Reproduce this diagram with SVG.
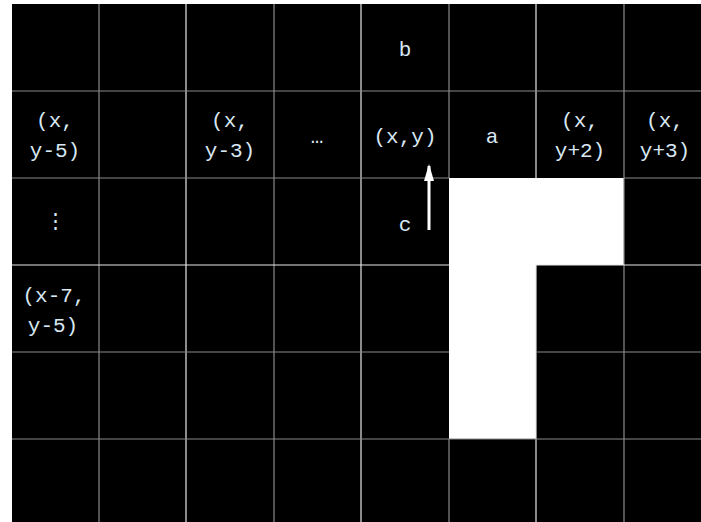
<svg xmlns="http://www.w3.org/2000/svg" width="701" height="522" viewBox="0 0 701 522">
<defs>
<style>
.t{font-family:"Liberation Mono","Courier New",monospace;font-size:21px;fill:#d8e8f4;text-anchor:middle}
.g{stroke:#8a8a8a;stroke-width:1.2}
.w{stroke:#e8e8e8;stroke-width:1.2}
</style>
<marker id="ah" markerWidth="17" markerHeight="10" refX="15" refY="5" orient="auto" markerUnits="userSpaceOnUse" viewBox="0 0 17 10">
<path d="M0,0 L17,5 L0,10 Z" fill="#fff"/>
</marker>
</defs>
<rect x="0" y="0" width="701" height="522" fill="#fff"/>
<rect x="12" y="4" width="689" height="518" fill="#000"/>
<rect id="white1" x="449" y="178" width="87" height="261" fill="#fff"/>
<rect id="white2" x="536" y="178" width="88" height="87" fill="#fff"/>
<g id="grid">
<line class="g" x1="99" y1="4" x2="99" y2="522"/>
<line class="w" x1="186" y1="4" x2="186" y2="522"/>
<line class="g" x1="274" y1="4" x2="274" y2="522"/>
<line class="w" x1="361" y1="4" x2="361" y2="522"/>
<line class="g" x1="449" y1="4" x2="449" y2="178"/>
<line class="g" x1="449" y1="439" x2="449" y2="522"/>
<line class="w" x1="536" y1="4" x2="536" y2="178"/>
<line class="w" x1="536" y1="265" x2="536" y2="522"/>
<line class="g" x1="624" y1="4" x2="624" y2="522"/>
<line class="g" x1="12" y1="91" x2="701" y2="91"/>
<line class="g" x1="12" y1="178" x2="449" y2="178"/>
<line class="g" x1="624" y1="178" x2="701" y2="178"/>
<line class="w" x1="12" y1="265" x2="449" y2="265"/>
<line class="w" x1="536" y1="265" x2="701" y2="265"/>
<line class="g" x1="12" y1="352" x2="449" y2="352"/>
<line class="g" x1="536" y1="352" x2="701" y2="352"/>
<line class="g" x1="12" y1="439" x2="701" y2="439"/>
</g>
<g id="labels">
<text class="t" x="405" y="56">b</text>
<text class="t" x="55" y="127">(x,</text>
<text class="t" x="55" y="157">y-5)</text>
<text class="t" x="230" y="127">(x,</text>
<text class="t" x="230" y="157">y-3)</text>
<text class="t" x="317" y="143">…</text>
<text class="t" x="405" y="143">(x,y)</text>
<text class="t" x="492" y="143">a</text>
<text class="t" x="580" y="127">(x,</text>
<text class="t" x="580" y="157">y+2)</text>
<text class="t" x="665" y="127">(x,</text>
<text class="t" x="665" y="157">y+3)</text>
<text class="t" x="55" y="228">⋮</text>
<text class="t" x="405" y="231">c</text>
<text class="t" x="54" y="302">(x-7,</text>
<text class="t" x="53" y="332">y-5)</text>
</g>
<g id="connectors">
<line x1="429" y1="230" x2="429" y2="166" stroke="#fff" stroke-width="3" marker-end="url(#ah)"/>
</g>
</svg>
